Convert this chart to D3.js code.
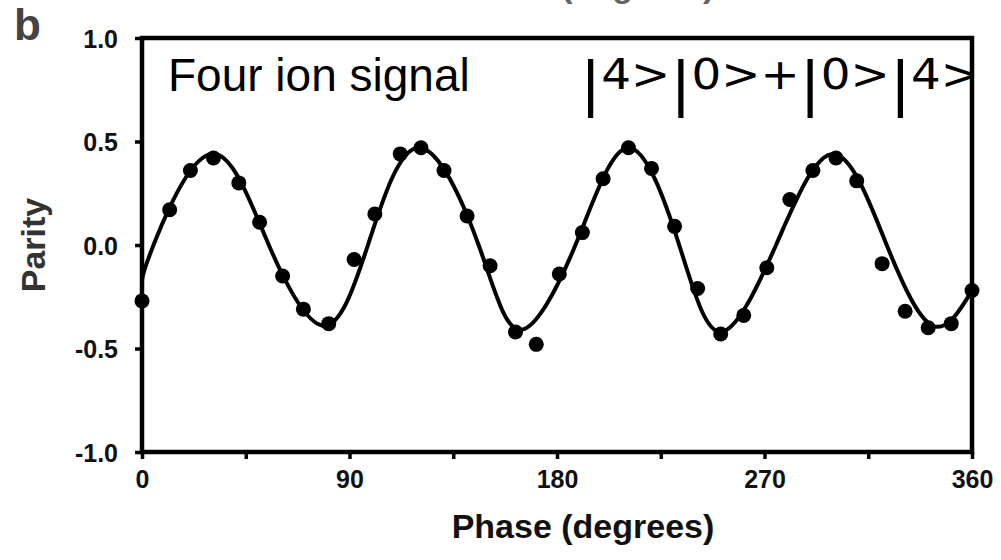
<!DOCTYPE html>
<html>
<head>
<meta charset="utf-8">
<script src="https://cdnjs.cloudflare.com/ajax/libs/d3/7.8.5/d3.min.js"></script>
<style>
  body { margin: 0; background: #fff; }
  svg { display: block; }
</style>
</head>
<body>
<script>
// Measured parity points (phase in degrees, parity value)
var phases = [0, 12, 21, 31, 42, 51, 61, 70, 81, 92, 101, 112, 121, 131, 141, 151, 162, 171,
              181, 191, 200, 211, 221, 231, 241, 251, 261, 271, 281, 291, 301, 310, 321, 331, 341, 351, 360];
var parity = [-0.27, 0.17, 0.36, 0.42, 0.30, 0.11, -0.15, -0.31, -0.38, -0.07, 0.15, 0.44, 0.47, 0.36, 0.14, -0.10, -0.42, -0.48,
              -0.14, 0.06, 0.32, 0.47, 0.37, 0.09, -0.21, -0.43, -0.34, -0.11, 0.22, 0.36, 0.42, 0.31, -0.09, -0.32, -0.40, -0.38, -0.22];

// Fitted curve at its extremes and zero crossings
var fitPhases = [0, 5, 30, 55, 79, 98, 120, 146, 164, 188, 211, 233, 251, 275, 300, 323, 343, 360];
var fitParity = [-0.19, 0, 0.44, 0, -0.39, 0, 0.47, 0, -0.41, 0, 0.47, 0, -0.42, 0, 0.44, 0, -0.39, -0.22];

var xTicks = [0, 45, 90, 135, 180, 225, 270, 315, 360];
var xLabels = ["0", "", "90", "", "180", "", "270", "", "360"];
var yTicks = [-1, -0.5, 0, 0.5, 1];

var width = 1001, height = 560;
var margin = {left: 142, right: 29, top: 38, bottom: 108};

var svg = d3.select("body").append("svg")
    .attr("width", width)
    .attr("height", height);

var x = d3.scaleLinear().domain([0, 360]).range([margin.left, width - margin.right]);
var y = d3.scaleLinear().domain([-1, 1]).range([height - margin.bottom, margin.top]);

svg.append("defs").append("clipPath").attr("id", "plotClip")
  .append("rect")
    .attr("x", x(0)).attr("y", y(1))
    .attr("width", x(360) - x(0)).attr("height", y(-1) - y(1));

// panel letter
svg.append("text")
    .attr("x", 14).attr("y", 40)
    .style("font-family", "Liberation Sans, Arial, sans-serif")
    .style("font-weight", "bold")
    .style("font-size", "44px")
    .style("fill", "#444")
    .text("b");

// axis title of the panel above, cut by the top edge
svg.append("text")
    .attr("x", 583).attr("y", -3)
    .attr("text-anchor", "middle")
    .style("font-family", "Liberation Sans, Arial, sans-serif")
    .style("font-weight", "bold")
    .style("font-size", "34px")
    .style("fill", "#666")
    .text("Phase (degrees)");

// axes
var xAxis = d3.axisBottom(x)
    .tickValues(xTicks)
    .tickSize(7)
    .tickPadding(8)
    .tickFormat(function (d, i) { return xLabels[i]; });

var yAxis = d3.axisLeft(y)
    .tickValues(yTicks)
    .tickSize(7)
    .tickPadding(17)
    .tickFormat(function (d) { return d.toFixed(1); });

var gx = svg.append("g")
    .attr("transform", "translate(0," + y(-1) + ")")
    .call(xAxis);
var gy = svg.append("g")
    .attr("transform", "translate(" + x(0) + ",0)")
    .call(yAxis);

[gx, gy].forEach(function (g) {
    g.select(".domain").remove();
    g.selectAll(".tick line").attr("stroke", "#000").attr("stroke-width", 3.5);
    g.selectAll(".tick text")
        .style("font-family", "Liberation Sans, Arial, sans-serif")
        .style("font-weight", "bold")
        .style("font-size", "25px")
        .style("fill", "#111");
});
gx.selectAll(".tick text").attr("dy", "0.85em");
gy.selectAll(".tick text").attr("dy", "0.36em");

// plot frame
svg.append("rect")
    .attr("x", x(0)).attr("y", y(1))
    .attr("width", x(360) - x(0)).attr("height", y(-1) - y(1))
    .attr("fill", "none")
    .attr("stroke", "#000")
    .attr("stroke-width", 4.5);

// axis titles
svg.append("text")
    .attr("x", 583).attr("y", 538)
    .attr("text-anchor", "middle")
    .style("font-family", "Liberation Sans, Arial, sans-serif")
    .style("font-weight", "bold")
    .style("font-size", "34px")
    .style("fill", "#111")
    .text("Phase (degrees)");

svg.append("text")
    .attr("transform", "translate(45," + y(0) + ") rotate(-90)")
    .attr("text-anchor", "middle")
    .style("font-family", "Liberation Sans, Arial, sans-serif")
    .style("font-weight", "bold")
    .style("font-size", "34px")
    .style("fill", "#333")
    .text("Parity");

var plot = svg.append("g").attr("clip-path", "url(#plotClip)");

// fitted line
var fitData = fitPhases.map(function (p, i) { return [p, fitParity[i]]; });
var line = d3.line()
    .x(function (d) { return x(d[0]); })
    .y(function (d) { return y(d[1]); })
    .curve(d3.curveNatural);

plot.append("path")
    .datum(fitData)
    .attr("d", line)
    .attr("fill", "none")
    .attr("stroke", "#000")
    .attr("stroke-width", 4);

// data points
var points = phases.map(function (p, i) { return [p, parity[i]]; });
svg.append("g").selectAll("circle")
    .data(points)
    .enter().append("circle")
    .attr("cx", function (d) { return x(d[0]); })
    .attr("cy", function (d) { return y(d[1]); })
    .attr("r", 7.5)
    .attr("fill", "#000");

// annotations
plot.append("text")
    .attr("x", 168).attr("y", 91)
    .style("font-family", "Liberation Sans, Arial, sans-serif")
    .style("font-size", "46px")
    .style("fill", "#000")
    .text("Four ion signal");

var ket = plot.append("text")
    .attr("x", 580).attr("y", 89)
    .attr("textLength", 400)
    .attr("lengthAdjust", "spacingAndGlyphs")
    .style("font-family", "DejaVu Sans, Verdana, sans-serif")
    .style("font-size", "43px")
    .style("fill", "#000");

// bars sit lower and taller than the digits; shift down for each bar, back up after
var ketParts = ["|", "4>", "|", "0>+", "|", "0>", "|", "4>"];
ketParts.forEach(function (s) {
    if (s === "|") {
        ket.append("tspan").attr("dy", 15).style("font-size", "58px").text(s);
    } else {
        ket.append("tspan").attr("dy", -15).text(s);
    }
});
</script>
</body>
</html>
